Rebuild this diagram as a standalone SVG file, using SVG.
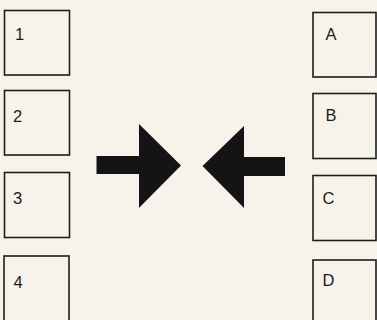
<svg xmlns="http://www.w3.org/2000/svg" width="377" height="320" viewBox="0 0 377 320">
<style>
.box rect{fill:none;stroke:#1c1f1d;stroke-width:1.6}
.box text{font-family:"Liberation Sans",Arial,sans-serif;font-size:16.5px;fill:#1c1c1c}
.arrow{fill:#141414}
</style>
<rect width="377" height="320" fill="#f7f3ea"/>
<g id="node-1" class="box"><rect x="4.5" y="10.5" width="65" height="64.5"/><text x="15" y="40">1</text></g>
<g id="node-2" class="box"><rect x="4.5" y="90.5" width="65" height="64.5"/><text x="13" y="121.5">2</text></g>
<g id="node-3" class="box"><rect x="4.5" y="172.5" width="65" height="65"/><text x="13" y="203.5">3</text></g>
<g id="node-4" class="box"><rect x="4" y="256" width="65" height="70"/><text x="13.5" y="288">4</text></g>
<g id="node-A" class="box"><rect x="313" y="12.5" width="63" height="64.5"/><text x="325.5" y="39.5">A</text></g>
<g id="node-B" class="box"><rect x="313" y="93.5" width="63" height="65"/><text x="325.5" y="121">B</text></g>
<g id="node-C" class="box"><rect x="313" y="175.5" width="63" height="65"/><text x="322.5" y="203.5">C</text></g>
<g id="node-D" class="box"><rect x="313" y="260" width="63" height="70"/><text x="322.5" y="286">D</text></g>
<g id="connectors">
<polygon class="arrow" points="96.5,156 139,156 139,124 181,165.5 139,208 139,174 96.5,174"/>
<polygon class="arrow" points="285,157 244,157 244,126 202.5,166 244,208 244,176 285,176"/>
</g>
</svg>
